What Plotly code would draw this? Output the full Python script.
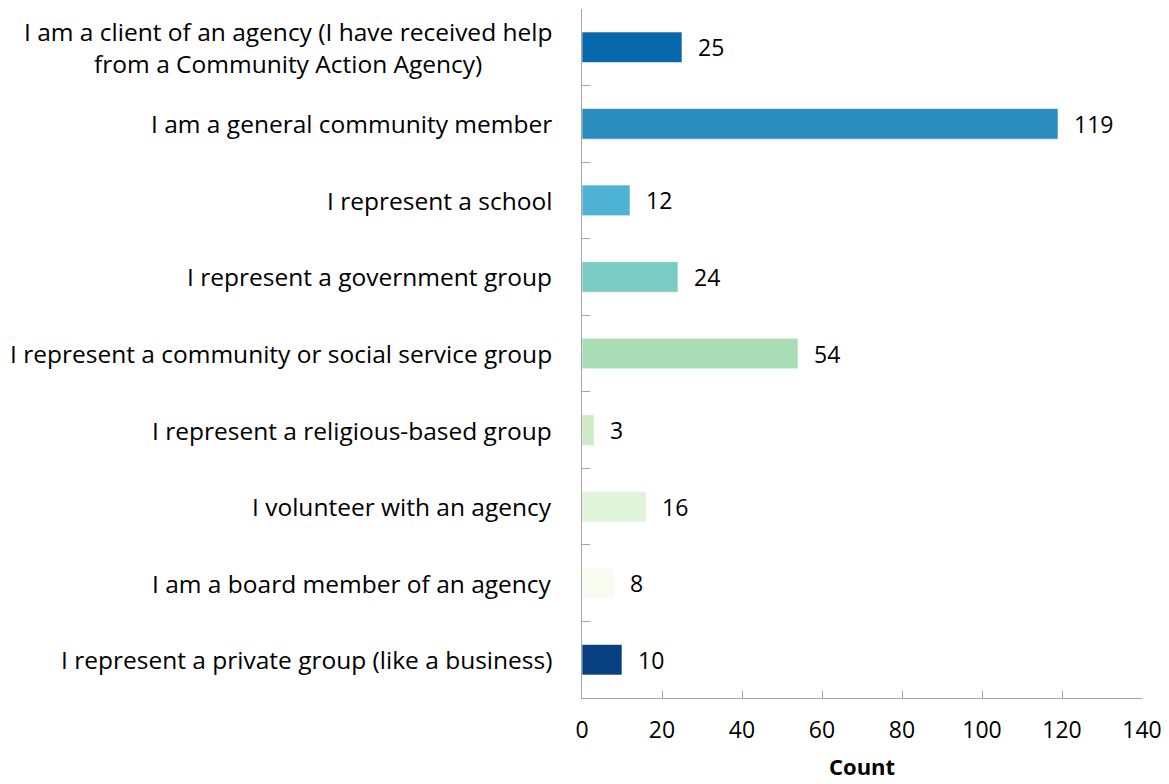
import plotly.graph_objects as go

# Respondent roles (top to bottom) and their counts
categories = [
    "I am a client of an agency (I have received help<br>from a Community Action Agency)",
    "I am a general community member",
    "I represent a school",
    "I represent a government group",
    "I represent a community or social service group",
    "I represent a religious-based group",
    "I volunteer with an agency",
    "I am a board member of an agency",
    "I represent a private group (like a business)",
]
counts = [25, 119, 12, 24, 54, 3, 16, 8, 10]
bar_colors = ["#0868AC", "#2B8CBE", "#4EB3D3", "#7BCCC4", "#A8DDB5",
              "#CCEBC5", "#E0F3DB", "#F7FCF0", "#084081"]

x_ticks = [0, 20, 40, 60, 80, 100, 120, 140]
x_title = "Count"

FONT = "Open Sans, Liberation Sans, Arial, sans-serif"
AXIS_GREY = "#A6A6A6"
TEXT = "#000000"

fig = go.Figure(
    go.Bar(
        x=counts,
        y=categories,
        orientation="h",
        marker=dict(color=bar_colors, line=dict(color="rgba(255,255,255,0.6)", width=1)),
        hoverinfo="x+y",
    )
)

for cat, val in zip(categories, counts):
    # Value label just past the end of each bar
    fig.add_annotation(
        x=val, y=cat, text=str(val), showarrow=False,
        xanchor="left", yanchor="middle", xshift=14,
        font=dict(family=FONT, size=23, color=TEXT),
    )
    # Category label, right-aligned against the axis, centred lines
    fig.add_annotation(
        x=0, xref="paper", y=cat, text=cat, showarrow=False,
        xanchor="right", yanchor="middle", xshift=-28, align="center",
        font=dict(family=FONT, size=24.5, color=TEXT),
    )

# x-axis title below the tick labels
fig.add_annotation(
    x=0.5, xref="paper", y=0, yref="paper", text=f"<b>{x_title}</b>",
    showarrow=False, xanchor="center", yanchor="bottom", yshift=-85,
    font=dict(family=FONT, size=22, color=TEXT),
)

fig.update_layout(
    width=1169, height=784,
    margin=dict(l=582, r=27, t=9, b=86, autoexpand=False),
    paper_bgcolor="white", plot_bgcolor="white",
    bargap=0.6,
    showlegend=False,
    font=dict(family=FONT, size=23, color=TEXT),
)

fig.update_xaxes(
    range=[0, 140], tickvals=x_ticks,
    showgrid=False, zeroline=False,
    showline=True, linecolor=AXIS_GREY, linewidth=1,
    ticks="inside", ticklen=7, tickcolor=AXIS_GREY,
    tickfont=dict(family=FONT, size=23, color=TEXT),
    ticklabelstandoff=11,
    automargin=False,
)

fig.update_yaxes(
    categoryorder="array", categoryarray=categories[::-1],
    autorange=False, range=[-0.5, len(categories) - 0.5],
    showgrid=False, zeroline=False,
    showline=True, linecolor=AXIS_GREY, linewidth=1,
    ticks="inside", tickson="boundaries", ticklen=8, tickcolor=AXIS_GREY,
    showticklabels=False,
    automargin=False,
)

fig.write_html("out.html")
